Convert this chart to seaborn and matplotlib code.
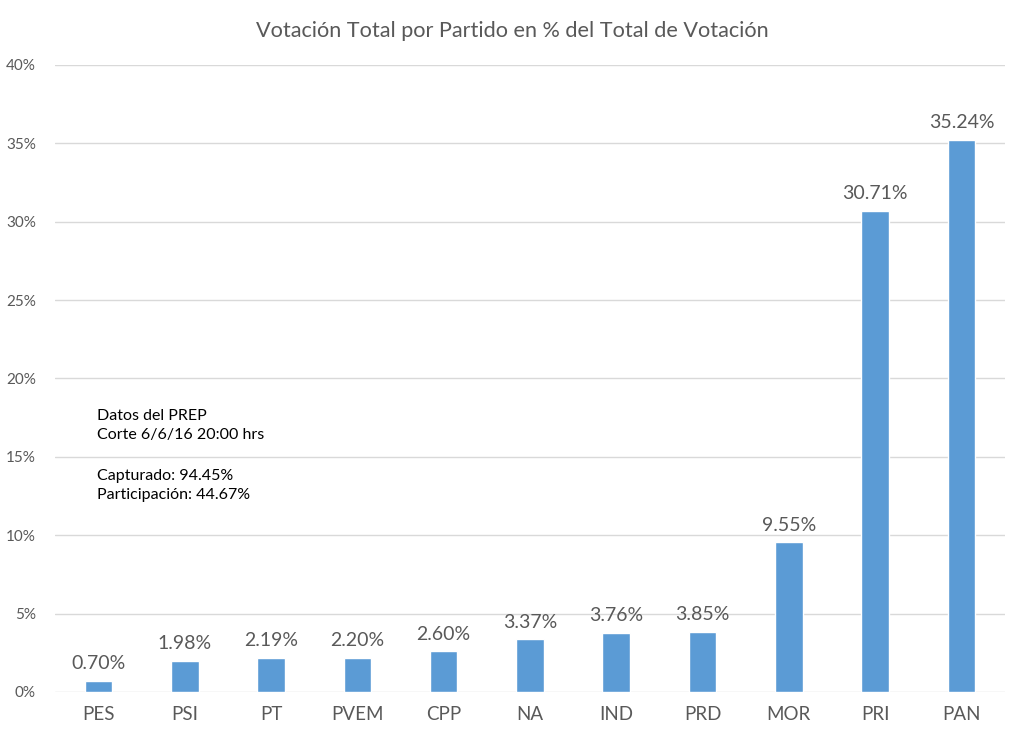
import matplotlib.pyplot as plt
import seaborn as sns
import pandas as pd
from matplotlib.ticker import FuncFormatter

partidos = ["PES", "PSI", "PT", "PVEM", "CPP", "NA", "IND", "PRD", "MOR", "PRI", "PAN"]
porcentajes = [0.70, 1.98, 2.19, 2.20, 2.60, 3.37, 3.76, 3.85, 9.55, 30.71, 35.24]
y_ticks = [0, 5, 10, 15, 20, 25, 30, 35, 40]

notas = ["Datos del PREP", "Corte 6/6/16 20:00 hrs", "Capturado: 94.45%", "Participación: 44.67%"]

df = pd.DataFrame({"partido": partidos, "pct": porcentajes})

sns.set_style("white")
plt.rcParams["font.family"] = ["Lato", "DejaVu Sans"]
gris = "#595959"

fig = plt.figure(figsize=(10.24, 7.42), dpi=100)
ax = fig.add_axes([0.054, 0.0674, 0.927, 0.845])

sns.barplot(data=df, x="partido", y="pct", color="#5B9BD5", width=0.32,
            saturation=1, ax=ax, zorder=3)

for i, v in enumerate(porcentajes):
    ax.text(i, v + 0.55, f"{v:.2f}%", ha="center", va="bottom",
            fontsize=14, color=gris)

ax.set_ylim(0, 40)
ax.set_xlim(-0.5, len(partidos) - 0.5)
ax.set_yticks(y_ticks)
ax.yaxis.set_major_formatter(FuncFormatter(lambda v, p: f"{v:.0f}%"))
ax.grid(axis="y", color="#D9D9D9", linewidth=1, zorder=0)
for s in ax.spines.values():
    s.set_visible(False)
ax.tick_params(axis="y", labelsize=11, colors=gris, length=0, pad=14)
ax.tick_params(axis="x", labelsize=13.5, colors=gris, length=0, pad=10)
ax.set_xlabel("")
ax.set_ylabel("")

fig.text(0.5, 0.958, "Votación Total por Partido en % del Total de Votación",
         ha="center", va="center", fontsize=15.6, color=gris)

# nota del PREP
for txt, yy in zip(notas, [0.4402, 0.4099, 0.3445, 0.3142]):
    ax.text(0.044, yy, txt, transform=ax.transAxes, fontsize=11.5,
            color="black", va="center")

fig.savefig("out.png", dpi=100, facecolor="white")
